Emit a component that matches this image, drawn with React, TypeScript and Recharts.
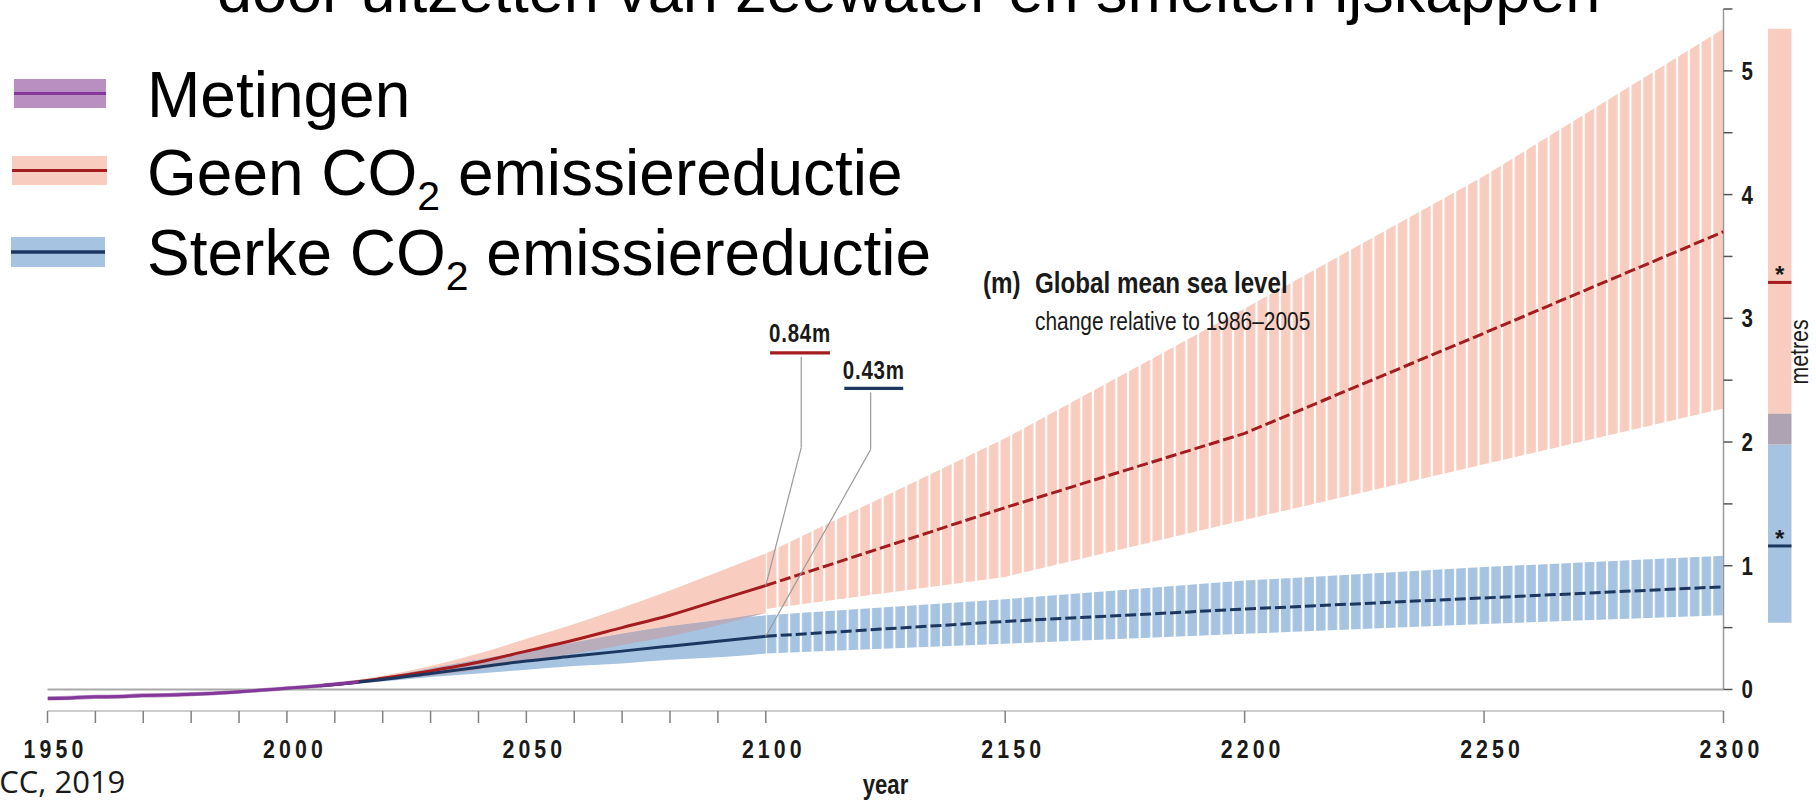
import React from "react";
import {
  ComposedChart,
  Area,
  Line,
  XAxis,
  YAxis,
  ReferenceLine,
  ReferenceArea,
} from "recharts";

const W = 1816;
const H = 801;
const ML = 47.5;
const MT = 9;
const XAH = 90;
const YAW = 92.5;
const PX_PER_YEAR = (W - ML - YAW) / 350;
const X2100 = ML + 150 * PX_PER_YEAR;
const STRIPE = 2.44 * PX_PER_YEAR;

const ARIAL = "'Liberation Sans', Arial, sans-serif";
const INK = "#1a1a1a";

// metingen (observed)
const obsYears = [1950, 1955, 1960, 1965, 1970, 1975, 1980, 1985, 1990, 1995, 2000, 2005, 2010, 2015];
const obsLevel = [-0.072, -0.068, -0.059, -0.057, -0.048, -0.045, -0.038, -0.031, -0.019, -0.005, 0.01, 0.024, 0.042, 0.06];
const obsLow = [-0.09, -0.085, -0.076, -0.074, -0.065, -0.062, -0.055, -0.047, -0.035, -0.021, -0.006, 0.008, 0.026, 0.044];
const obsHigh = [-0.054, -0.051, -0.042, -0.04, -0.031, -0.028, -0.021, -0.015, -0.003, 0.011, 0.026, 0.04, 0.058, 0.076];

// projections up to 2100
const projYears = [2007, 2010, 2020, 2030, 2040, 2050, 2060, 2070, 2080, 2090, 2100];
const geenMid = [0.03, 0.04, 0.09, 0.15, 0.22, 0.31, 0.4, 0.5, 0.6, 0.72, 0.84];
const geenLow = [0.03, 0.035, 0.07, 0.11, 0.16, 0.23, 0.29, 0.36, 0.43, 0.52, 0.62];
const geenHigh = [0.03, 0.05, 0.11, 0.19, 0.29, 0.41, 0.53, 0.66, 0.8, 0.95, 1.1];
const sterkMid = [0.03, 0.04, 0.08, 0.13, 0.18, 0.23, 0.27, 0.31, 0.35, 0.39, 0.43];
const sterkLow = [0.03, 0.035, 0.065, 0.1, 0.13, 0.16, 0.19, 0.21, 0.24, 0.26, 0.29];
const sterkHigh = [0.03, 0.05, 0.1, 0.17, 0.24, 0.31, 0.38, 0.45, 0.51, 0.56, 0.6];

// projections 2100-2300
const lateYears = [2100, 2150, 2200, 2250, 2300];
const geenMidLate = [0.84, 1.47, 2.07, 2.88, 3.7];
const geenLowLate = [0.65, 0.91, 1.37, 1.82, 2.27];
const geenHighLate = [1.1, 2.03, 3.08, 4.15, 5.34];
const sterkMidLate = [0.43, 0.55, 0.65, 0.74, 0.83];
const sterkLowLate = [0.29, 0.37, 0.45, 0.53, 0.6];
const sterkHighLate = [0.6, 0.73, 0.88, 0.99, 1.08];

// bars right of the axis (2300)
const barYears = [2309.3, 2314.2];
const geenBar = [1.98, 5.34];
const sterkBar = [0.54, 2.23];
const geenStar = 3.29;
const sterkStar = 1.16;

const xTicks = [1950, 1960, 1970, 1980, 1990, 2000, 2010, 2020, 2030, 2040, 2050, 2060, 2070, 2080, 2090, 2100, 2150, 2200, 2250, 2300];
const yTicks = [0, 0.5, 1, 1.5, 2, 2.5, 3, 3.5, 4, 4.5, 5, 5.5];

const GEEN_FILL = "#f8cdbf";
const GEEN_LINE = "#a41c1f";
const STERK_FILL = "#a6c3e1";
const STERK_LINE = "#1b375f";
const BOTH_FILL = "#b9acbb";
const OBS_FILL = "#b98fc1";
const OBS_LINE = "#84399a";

const rows = (years: number[], lo: number[], hi: number[], mid: number[]) =>
  years.map((year, i) => ({ year, range: [lo[i], hi[i]], mid: mid[i] }));

const obsData = rows(obsYears, obsLow, obsHigh, obsLevel);
const geenData = rows(projYears, geenLow, geenHigh, geenMid);
const sterkData = rows(projYears, sterkLow, sterkHigh, sterkMid);
// where the two likely ranges overlap
const bothData = projYears.map((year, i) => ({
  year,
  range: [geenLow[i], Math.max(geenLow[i], sterkHigh[i])],
}));
const geenLate = rows(lateYears, geenLowLate, geenHighLate, geenMidLate);
const sterkLate = rows(lateYears, sterkLowLate, sterkHighLate, sterkMidLate);

// condensed text: Arial squeezed like Arial Narrow
const NText = ({ x, y, size, weight = 400, anchor = "start", spacing = 0, rotate = 0, children }: any) => (
  <text
    transform={`translate(${x},${y}) rotate(${rotate}) scale(0.82,1)`}
    textAnchor={anchor}
    fontFamily={ARIAL}
    fontSize={size}
    fontWeight={weight}
    letterSpacing={spacing}
    fill={INK}
  >
    {children}
  </text>
);

const XTick = (props: any) => {
  const { x, y, payload } = props;
  if (payload.value % 50 !== 0) return <g />;
  return <NText x={x + 8} y={y + 33} size={26} weight={700} anchor="middle" spacing={5}>{payload.value}</NText>;
};

const YTick = (props: any) => {
  const { x, y, payload } = props;
  if (!Number.isInteger(payload.value)) return <g />;
  return <NText x={x} y={y + 9} size={25} weight={700}>{payload.value}</NText>;
};

const valueLabel = (text: string, gap: number) => (props: any) => {
  const vb = props.viewBox;
  return <NText x={vb.x + vb.width / 2} y={vb.y - gap} size={25} weight={700} anchor="middle" spacing={1}>{text}</NText>;
};

const starLabel = (props: any) => {
  const vb = props.viewBox;
  return (
    <text x={vb.x + vb.width / 2} y={vb.y + 1} textAnchor="middle" fontFamily={ARIAL} fontWeight={700} fontSize={24} fill={INK}>
      *
    </text>
  );
};

const leader = { stroke: "#9a9a9a", strokeWidth: 1.2, ifOverflow: "visible" as const };

export default function App() {
  return (
    <div style={{ position: "absolute", left: 0, top: 0, width: W, height: H, background: "#fff" }}>
      <ComposedChart width={W} height={H} margin={{ top: MT, right: 0, bottom: 0, left: ML }}>
        <defs>
          <pattern id="geenStripes" patternUnits="userSpaceOnUse" x={X2100} y={0} width={STRIPE} height={H}>
            <rect x={1.1} y={0} width={STRIPE - 2.2} height={H} fill={GEEN_FILL} />
          </pattern>
          <pattern id="sterkStripes" patternUnits="userSpaceOnUse" x={X2100} y={0} width={STRIPE} height={H}>
            <rect x={1.1} y={0} width={STRIPE - 2.2} height={H} fill={STERK_FILL} />
          </pattern>
        </defs>
        <XAxis
          dataKey="year"
          type="number"
          domain={[1950, 2300]}
          allowDataOverflow
          ticks={xTicks}
          interval={0}
          height={XAH}
          axisLine={{ stroke: "#bdbdbd", strokeWidth: 1.5 }}
          tickLine={{ stroke: "#808080", strokeWidth: 1.5 }}
          tickSize={12}
          tick={<XTick />}
        />
        <YAxis
          orientation="right"
          type="number"
          domain={[-0.174, 5.5]}
          allowDataOverflow
          ticks={yTicks}
          interval={0}
          width={YAW}
          axisLine={false}
          tickLine={{ stroke: "#555", strokeWidth: 1.5 }}
          tickSize={9}
          tickMargin={9}
          tick={<YTick />}
        />

        <Area data={geenData} dataKey="range" type="monotone" stroke="none" fill={GEEN_FILL} fillOpacity={1} isAnimationActive={false} />
        <Area data={sterkData} dataKey="range" type="monotone" stroke="none" fill={STERK_FILL} fillOpacity={1} isAnimationActive={false} />
        <Area data={bothData} dataKey="range" type="monotone" stroke="none" fill={BOTH_FILL} fillOpacity={1} isAnimationActive={false} />
        <Area data={geenLate} dataKey="range" type="linear" stroke="none" fill="url(#geenStripes)" fillOpacity={1} isAnimationActive={false} />
        <Area data={sterkLate} dataKey="range" type="linear" stroke="none" fill="url(#sterkStripes)" fillOpacity={1} isAnimationActive={false} />

        <ReferenceLine y={0} stroke="#a8a8a8" strokeWidth={2} />
        <ReferenceLine segment={[{ x: 2300, y: 0 }, { x: 2300, y: 5.5 }]} stroke="#9a9a9a" strokeWidth={1.5} ifOverflow="visible" />

        <Area data={obsData} dataKey="range" type="monotone" stroke="none" fill={OBS_FILL} fillOpacity={1} isAnimationActive={false} />

        <Line data={geenData} dataKey="mid" type="monotone" stroke={GEEN_LINE} strokeWidth={3} dot={false} isAnimationActive={false} />
        <Line data={sterkData} dataKey="mid" type="monotone" stroke={STERK_LINE} strokeWidth={3} dot={false} isAnimationActive={false} />
        <Line data={geenLate} dataKey="mid" type="linear" stroke={GEEN_LINE} strokeWidth={3} strokeDasharray="11 4" dot={false} isAnimationActive={false} />
        <Line data={sterkLate} dataKey="mid" type="linear" stroke={STERK_LINE} strokeWidth={3} strokeDasharray="11 4" dot={false} isAnimationActive={false} />
        <Line data={obsData} dataKey="mid" type="monotone" stroke={OBS_LINE} strokeWidth={3} dot={false} isAnimationActive={false} />

        {/* leaders to the 2100 values */}
        <ReferenceLine segment={[{ x: 2107.4, y: 2.69 }, { x: 2107.4, y: 1.955 }]} {...leader} />
        <ReferenceLine segment={[{ x: 2107.4, y: 1.955 }, { x: 2100, y: geenMid[10] }]} {...leader} />
        <ReferenceLine segment={[{ x: 2121.9, y: 2.4 }, { x: 2121.9, y: 1.94 }]} {...leader} />
        <ReferenceLine segment={[{ x: 2121.9, y: 1.94 }, { x: 2100, y: sterkMid[10] }]} {...leader} />
        <ReferenceLine segment={[{ x: 2100.9, y: 2.72 }, { x: 2113.4, y: 2.72 }]} stroke={GEEN_LINE} strokeWidth={3.2}
          ifOverflow="visible" label={valueLabel("0.84m", 11)} />
        <ReferenceLine segment={[{ x: 2116.4, y: 2.434 }, { x: 2128.7, y: 2.434 }]} stroke={STERK_LINE} strokeWidth={3.2}
          ifOverflow="visible" label={valueLabel("0.43m", 9)} />

        {/* 2300 range bars */}
        <ReferenceArea x1={barYears[0]} x2={barYears[1]} y1={sterkBar[1]} y2={geenBar[1]} fill={GEEN_FILL} fillOpacity={1} stroke="none" ifOverflow="visible" />
        <ReferenceArea x1={barYears[0]} x2={barYears[1]} y1={sterkBar[0]} y2={geenBar[0]} fill={STERK_FILL} fillOpacity={1} stroke="none" ifOverflow="visible" />
        <ReferenceArea x1={barYears[0]} x2={barYears[1]} y1={geenBar[0]} y2={sterkBar[1]} fill="#aea3b3" fillOpacity={1} stroke="none" ifOverflow="visible" />
        <ReferenceLine segment={[{ x: barYears[0], y: geenStar }, { x: barYears[1], y: geenStar }]} stroke={GEEN_LINE} strokeWidth={3}
          ifOverflow="visible" label={starLabel} />
        <ReferenceLine segment={[{ x: barYears[0], y: sterkStar }, { x: barYears[1], y: sterkStar }]} stroke={STERK_LINE} strokeWidth={3}
          ifOverflow="visible" label={starLabel} />
      </ComposedChart>

      <svg width={W} height={H} style={{ position: "absolute", left: 0, top: 0, pointerEvents: "none" }}>
        <text x={217} y={12} fontFamily={ARIAL} fontSize={63} fill="#000">
          door uitzetten van zeewater en smelten ijskappen
        </text>

        <rect x={14} y={79} width={92} height={29} fill={OBS_FILL} />
        <line x1={14} x2={106} y1={93.5} y2={93.5} stroke={OBS_LINE} strokeWidth={3} />
        <rect x={12} y={156} width={95} height={29} fill={GEEN_FILL} />
        <line x1={12} x2={107} y1={170.5} y2={170.5} stroke={GEEN_LINE} strokeWidth={3} />
        <rect x={11} y={237} width={94} height={30} fill={STERK_FILL} />
        <line x1={11} x2={105} y1={252} y2={252} stroke={STERK_LINE} strokeWidth={3.5} />

        <text x={147} y={117} fontFamily={ARIAL} fontSize={64} fill="#000">Metingen</text>
        <text x={147} y={195} fontFamily={ARIAL} fontSize={64} fill="#000">
          Geen CO<tspan fontSize={41} dy={15}>2</tspan><tspan dy={-15}> emissiereductie</tspan>
        </text>
        <text x={147} y={275} fontFamily={ARIAL} fontSize={64} fill="#000">
          Sterke CO<tspan fontSize={41} dy={15}>2</tspan><tspan dy={-15}> emissiereductie</tspan>
        </text>

        <NText x={983} y={293} size={29.5} weight={700}>(m)</NText>
        <NText x={1035} y={293} size={29.5} weight={700}>Global mean sea level</NText>
        <NText x={1035} y={330} size={25.5}>change relative to 1986–2005</NText>

        <NText x={885.5} y={794} size={27} weight={700} anchor="middle">year</NText>
        <NText x={1808} y={352} size={26} anchor="middle" rotate={-90}>metres</NText>

        <text x={-28} y={793} fontFamily="'Open Sans', sans-serif" fontSize={31} fill={INK}>IPCC, 2019</text>
      </svg>
    </div>
  );
}
